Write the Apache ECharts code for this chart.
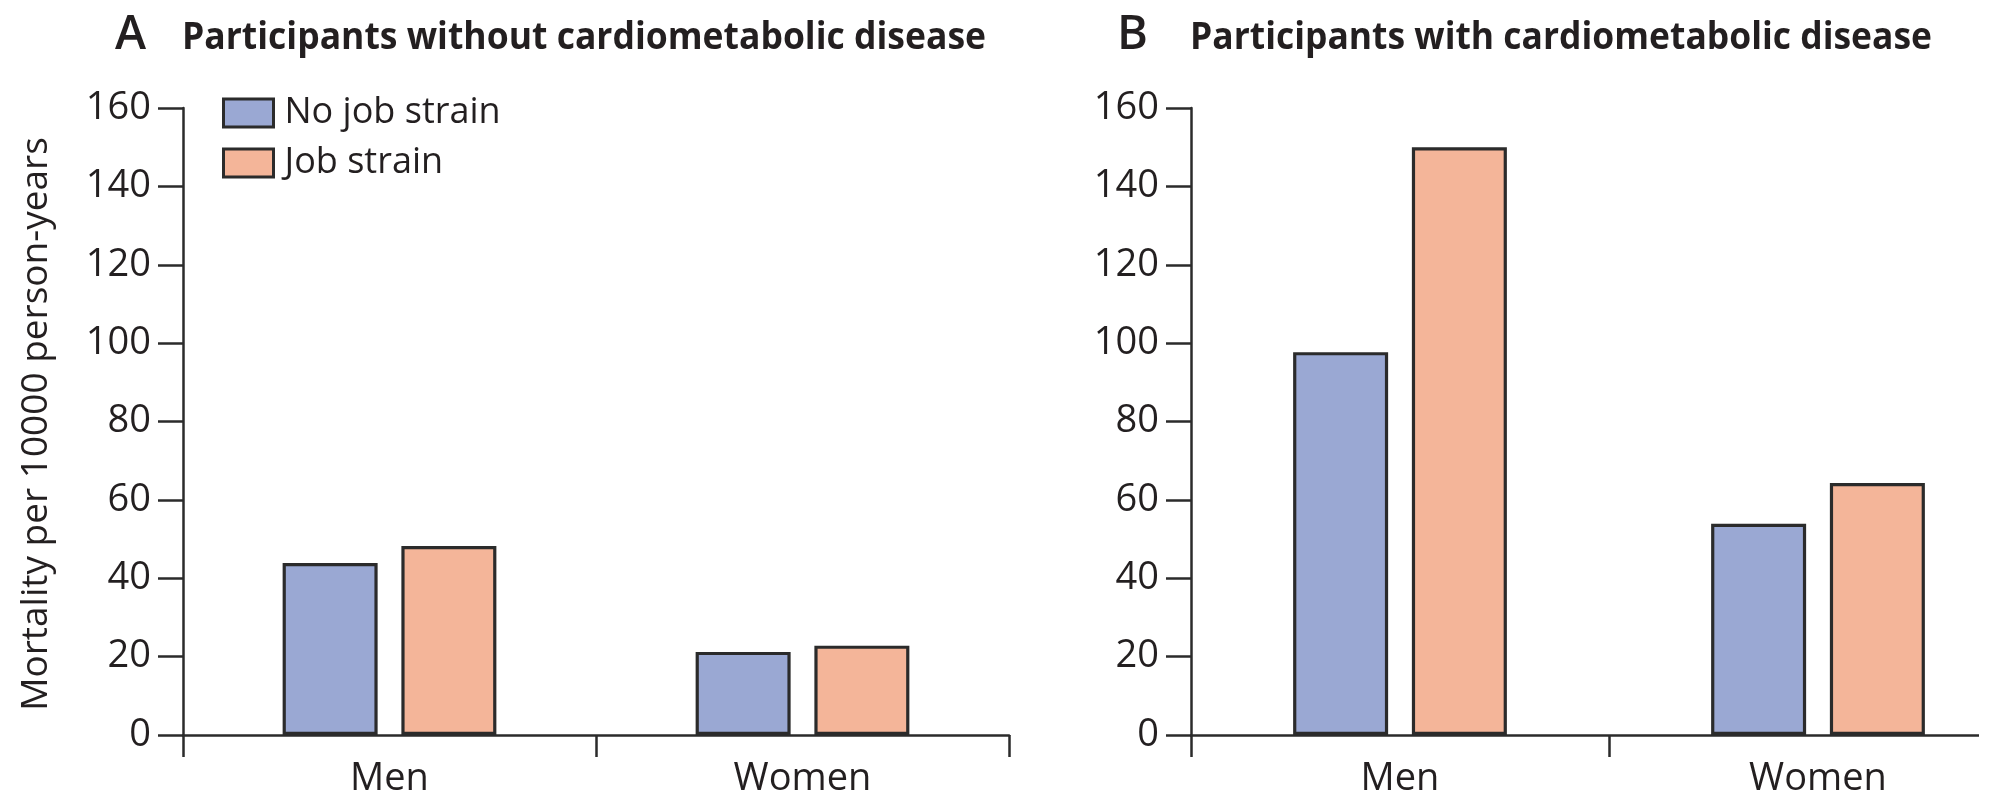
<!DOCTYPE html>
<html>
<head>
<meta charset="utf-8">
<script src="https://cdn.jsdelivr.net/npm/echarts@6/dist/echarts.min.js"></script>
<style>
html,body{margin:0;padding:0;background:#fff;overflow:hidden;}
#chart{width:2040px;height:800px;}
</style>
</head>
<body>
<div id="chart"></div>
<script>
// ---- data ----
const categories = ['Men', 'Women'];
const seriesNames = ['No job strain', 'Job strain'];
const noStrainA = [43.9, 21.2];
const strainA = [48.2, 22.8];
const noStrainB = [97.7, 53.9];
const strainB = [150, 64.3];
const yMin = 0, yMax = 160, yInterval = 20;
const panelLetters = ['A', 'B'];
const panelTitles = ['Participants without cardiometabolic disease', 'Participants with cardiometabolic disease'];
const yAxisTitle = 'Mortality per 10000 person-years';

// ---- style ----
const FONT = '"Open Sans", "Noto Sans", sans-serif';
const TXT = '#231f20';
const LINE = '#2b2b2b';
const BLUE = '#9aa8d3';
const ORANGE = '#f4b599';

function measure(text, font) {
  const c = document.createElement('canvas').getContext('2d');
  c.font = font;
  return c.measureText(text).width;
}

const chart = echarts.init(document.getElementById('chart'), null, {renderer: 'canvas'});

const grids = [
  {left: 183, top: 108, width: 826, height: 627},
  {left: 1191, top: 108, width: 836, height: 627}
];

function xAxis(i) {
  return {
    type: 'category', gridIndex: i, data: categories,
    axisLine: {show: true, lineStyle: {color: LINE, width: 2.5}},
    axisTick: {show: true, length: 22, lineStyle: {color: LINE, width: 2.5}},
    axisLabel: {fontFamily: FONT, fontSize: 38, color: TXT, margin: 25},
    splitLine: {show: false}
  };
}
function yAxis(i) {
  return {
    type: 'value', gridIndex: i, min: yMin, max: yMax, interval: yInterval,
    axisLine: {show: true, lineStyle: {color: LINE, width: 2.5}},
    axisTick: {show: true, length: 25, lineStyle: {color: LINE, width: 2.5}},
    axisLabel: {fontFamily: FONT, fontSize: 38, color: TXT, margin: 32},
    splitLine: {show: false}
  };
}
function bar(name, data, i, color) {
  return {
    type: 'bar', name: name, data: data, xAxisIndex: i, yAxisIndex: i,
    barWidth: 95, barGap: '25%',
    itemStyle: {color: color, borderColor: LINE, borderWidth: 3.2},
    emphasis: {disabled: true}
  };
}

const titleFont = 'bold 38px ' + FONT;
const titleTargets = [[182, 804], [1190, 742]];
const letterX = [115, 1117];

const graphics = [];
for (let k = 0; k < 2; k++) {
  graphics.push({
    type: 'text', x: letterX[k], y: 36,
    style: {text: panelLetters[k], font: '600 47px ' + FONT, fill: TXT, textAlign: 'left', textVerticalAlign: 'middle'}
  });
  const w = measure(panelTitles[k], titleFont);
  graphics.push({
    type: 'text', x: titleTargets[k][0], y: 38, scaleX: titleTargets[k][1] / w,
    style: {text: panelTitles[k], font: titleFont, fill: TXT, textAlign: 'left', textVerticalAlign: 'middle'}
  });
}
graphics.push({
  type: 'text', x: 36, y: 424, rotation: Math.PI / 2,
  style: {text: yAxisTitle, font: '37px ' + FONT, fill: TXT, textAlign: 'center', textVerticalAlign: 'middle'}
});
// page edge: the reference's right axis stops at the image border
graphics.push({
  type: 'rect', z: 100, shape: {x: 1979, y: 0, width: 80, height: 800}, style: {fill: '#fff'}
});

chart.setOption({
  animation: false,
  backgroundColor: '#fff',
  grid: grids,
  xAxis: [xAxis(0), xAxis(1)],
  yAxis: [yAxis(0), yAxis(1)],
  legend: {
    data: seriesNames, orient: 'vertical', left: 222, top: 95, padding: 0,
    itemWidth: 50, itemHeight: 28, itemGap: 14,
    icon: 'rect',
    itemStyle: {borderColor: LINE, borderWidth: 3},
    textStyle: {fontFamily: FONT, fontSize: 36, color: TXT, padding: [0, 0, 0, 6]},
    selectedMode: false
  },
  graphic: graphics,
  series: [
    bar(seriesNames[0], noStrainA, 0, BLUE),
    bar(seriesNames[1], strainA, 0, ORANGE),
    bar(seriesNames[0], noStrainB, 1, BLUE),
    bar(seriesNames[1], strainB, 1, ORANGE)
  ]
});
</script>
</body>
</html>
